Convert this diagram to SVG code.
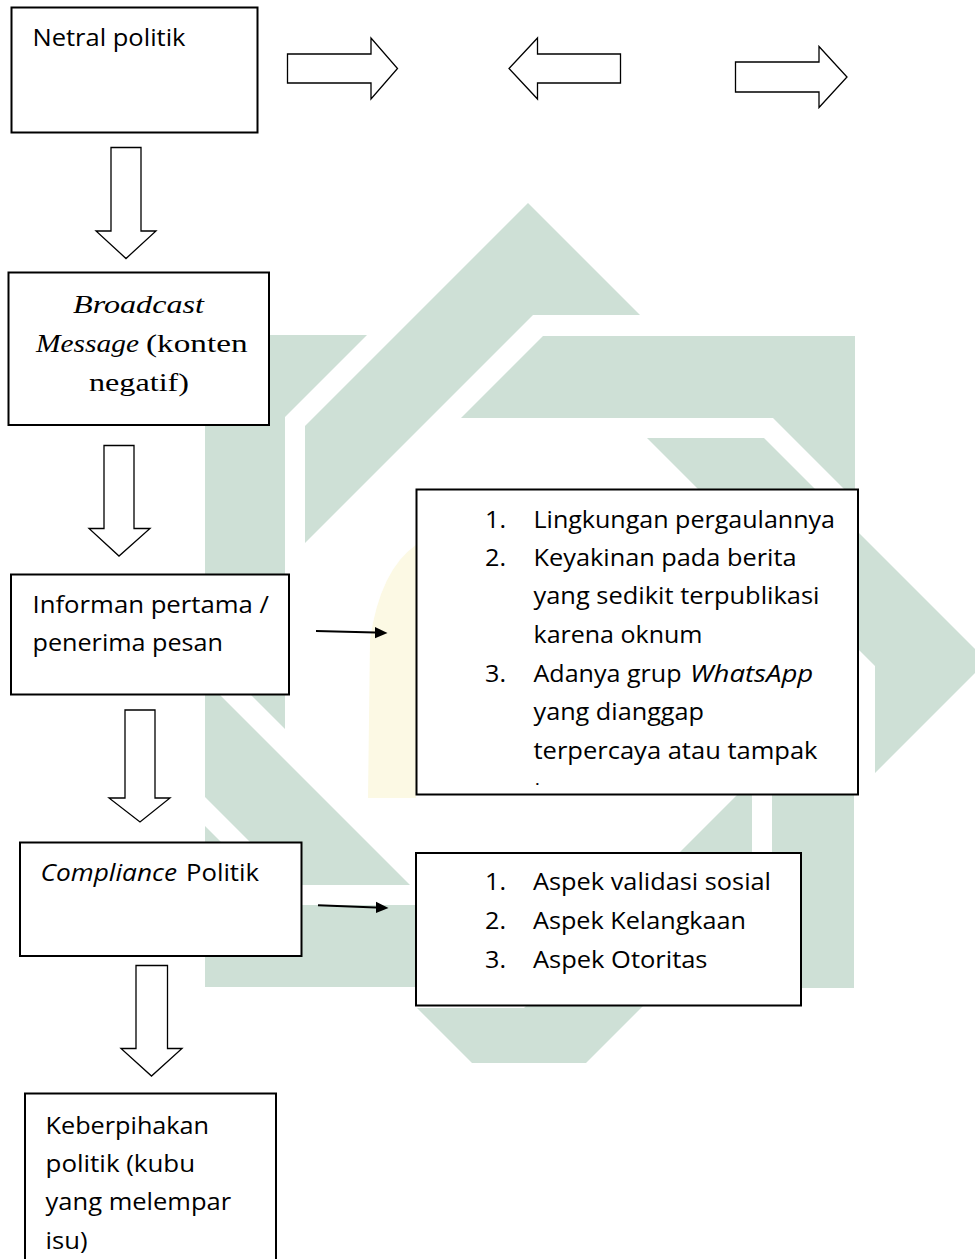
<svg xmlns="http://www.w3.org/2000/svg" width="975" height="1259" viewBox="0 0 975 1259">
<defs>
<style>
.box{fill:#fff;stroke:#000;stroke-width:2}
.blk{fill:#fff;stroke:#000;stroke-width:1.3;stroke-linejoin:miter}
.t{font-family:"Open Sans","Liberation Sans",sans-serif;font-size:23px;fill:#000}
.it{font-style:italic}
.s{font-family:"Liberation Serif","Times New Roman",serif;font-size:26px;fill:#000}
.wm{fill:#cee0d6}
.ln{stroke:#000;stroke-width:2;fill:none}
.hd{fill:#000}
</style>
<clipPath id="wmclip"><rect x="205" y="0" width="770" height="1063"/></clipPath>
<polygon id="chev" points="528,203 640,315 533,315 305,543 305,426"/>
<polygon id="bar" points="543,336 855,336 855,500 773,418 461,418"/>
</defs>
<rect width="975" height="1259" fill="#fff"/>
<g id="watermark" clip-path="url(#wmclip)" class="wm">
<use href="#chev"/>
<use href="#bar"/>
<use href="#chev" transform="rotate(90 528.5 661.5)"/>
<use href="#bar" transform="rotate(90 528.5 661.5)"/>
<use href="#chev" transform="rotate(180 528.5 661.5)"/>
<use href="#bar" transform="rotate(180 528.5 661.5)"/>
<use href="#chev" transform="rotate(270 528.5 661.5)"/>
<use href="#bar" transform="rotate(270 528.5 661.5)"/>
<path d="M416,545 Q380,570 370,640 L368,798 L416,798 Z" fill="#fcf9e4"/>
</g>
<g id="connectors">
<polygon class="blk" points="287.5,54 371,54 371,38 397.5,68.5 371,99 371,83 287.5,83"/>
<polygon class="blk" points="620.5,54 537.5,54 537.5,38 509,68.5 537.5,99 537.5,83 620.5,83"/>
<polygon class="blk" points="735.5,62 819,62 819,46.5 847,77 819,107.5 819,92 735.5,92"/>
<polygon class="blk" points="111,147.5 141,147.5 141,231 156,231 126,258.5 96,231 111,231"/>
<polygon class="blk" points="104,445.5 134,445.5 134,528.5 150,528.5 119,556 89,528.5 104,528.5"/>
<polygon class="blk" points="125,710 155,710 155,798 170,798 140,822 109,798 125,798"/>
<polygon class="blk" points="136,965.5 167.5,965.5 167.5,1048.5 182,1048.5 151.5,1076 121,1048.5 136,1048.5"/>
<line class="ln" x1="316" y1="631" x2="375" y2="632.6"/>
<polygon class="hd" points="375,627 387.5,633 375,638.2"/>
<line class="ln" x1="318" y1="905.3" x2="376" y2="907.4"/>
<polygon class="hd" points="376,901.8 388.5,908 376,913"/>
</g>
<g id="node-netral">
<rect class="box" x="11.5" y="7.5" width="246" height="125"/>
<text class="t" x="32.5" y="45.5" textLength="153" lengthAdjust="spacingAndGlyphs">Netral politik</text>
</g>
<g id="node-broadcast">
<rect class="box" x="8.5" y="272.5" width="260.5" height="152.5"/>
<text class="s it" x="73" y="313" textLength="131" lengthAdjust="spacingAndGlyphs">Broadcast</text>
<text class="s it" x="36" y="352" textLength="103" lengthAdjust="spacingAndGlyphs">Message</text>
<text class="s" x="146" y="352" textLength="101.5" lengthAdjust="spacingAndGlyphs">(konten</text>
<text class="s" x="89" y="391" textLength="100" lengthAdjust="spacingAndGlyphs">negatif)</text>
</g>
<g id="node-informan">
<rect class="box" x="11" y="574.5" width="278" height="120"/>
<text class="t" x="32.5" y="613" textLength="236.5" lengthAdjust="spacingAndGlyphs">Informan pertama /</text>
<text class="t" x="32.5" y="651" textLength="190.5" lengthAdjust="spacingAndGlyphs">penerima pesan</text>
</g>
<g id="node-faktor">
<rect class="box" x="416.5" y="489.5" width="441.5" height="305"/>
<text class="t" x="485" y="527.7" textLength="21" lengthAdjust="spacingAndGlyphs">1.</text>
<text class="t" x="533.5" y="527.7" textLength="301.5" lengthAdjust="spacingAndGlyphs">Lingkungan pergaulannya</text>
<text class="t" x="485" y="566" textLength="21" lengthAdjust="spacingAndGlyphs">2.</text>
<text class="t" x="533.5" y="566" textLength="263" lengthAdjust="spacingAndGlyphs">Keyakinan pada berita</text>
<text class="t" x="533.5" y="604.3" textLength="286" lengthAdjust="spacingAndGlyphs">yang sedikit terpublikasi</text>
<text class="t" x="533.5" y="643" textLength="169" lengthAdjust="spacingAndGlyphs">karena oknum</text>
<text class="t" x="485" y="681.5" textLength="21" lengthAdjust="spacingAndGlyphs">3.</text>
<text class="t" x="533.5" y="681.5" textLength="148" lengthAdjust="spacingAndGlyphs">Adanya grup</text>
<text class="t it" x="690" y="681.5" textLength="123.3" lengthAdjust="spacingAndGlyphs">WhatsApp</text>
<text class="t" x="533.5" y="720" textLength="170.5" lengthAdjust="spacingAndGlyphs">yang dianggap</text>
<text class="t" x="533.5" y="758.5" textLength="284" lengthAdjust="spacingAndGlyphs">terpercaya atau tampak</text>
<text x="535.5" y="785" style="font-family:'Open Sans','Liberation Sans',sans-serif;font-size:13px;font-weight:bold">.</text>
</g>
<g id="node-compliance">
<rect class="box" x="20" y="842.5" width="281.5" height="113.5"/>
<text class="t it" x="40.6" y="881" textLength="136.5" lengthAdjust="spacingAndGlyphs">Compliance</text>
<text class="t" x="186" y="881" textLength="73" lengthAdjust="spacingAndGlyphs">Politik</text>
</g>
<g id="node-aspek">
<rect class="box" x="416" y="853" width="385" height="152.5"/>
<text class="t" x="485" y="890" textLength="21" lengthAdjust="spacingAndGlyphs">1.</text>
<text class="t" x="533" y="890" textLength="238" lengthAdjust="spacingAndGlyphs">Aspek validasi sosial</text>
<text class="t" x="485" y="929" textLength="21" lengthAdjust="spacingAndGlyphs">2.</text>
<text class="t" x="533" y="929" textLength="213" lengthAdjust="spacingAndGlyphs">Aspek Kelangkaan</text>
<text class="t" x="485" y="967.5" textLength="21" lengthAdjust="spacingAndGlyphs">3.</text>
<text class="t" x="533" y="967.5" textLength="174.5" lengthAdjust="spacingAndGlyphs">Aspek Otoritas</text>
</g>
<g id="node-keberpihakan">
<rect class="box" x="25" y="1093.5" width="251" height="190"/>
<text class="t" x="45.6" y="1133.5" textLength="163.5" lengthAdjust="spacingAndGlyphs">Keberpihakan</text>
<text class="t" x="45.6" y="1172" textLength="149.5" lengthAdjust="spacingAndGlyphs">politik (kubu</text>
<text class="t" x="45.6" y="1210" textLength="185.5" lengthAdjust="spacingAndGlyphs">yang melempar</text>
<text class="t" x="45.6" y="1248.5" textLength="42" lengthAdjust="spacingAndGlyphs">isu)</text>
</g>
</svg>
